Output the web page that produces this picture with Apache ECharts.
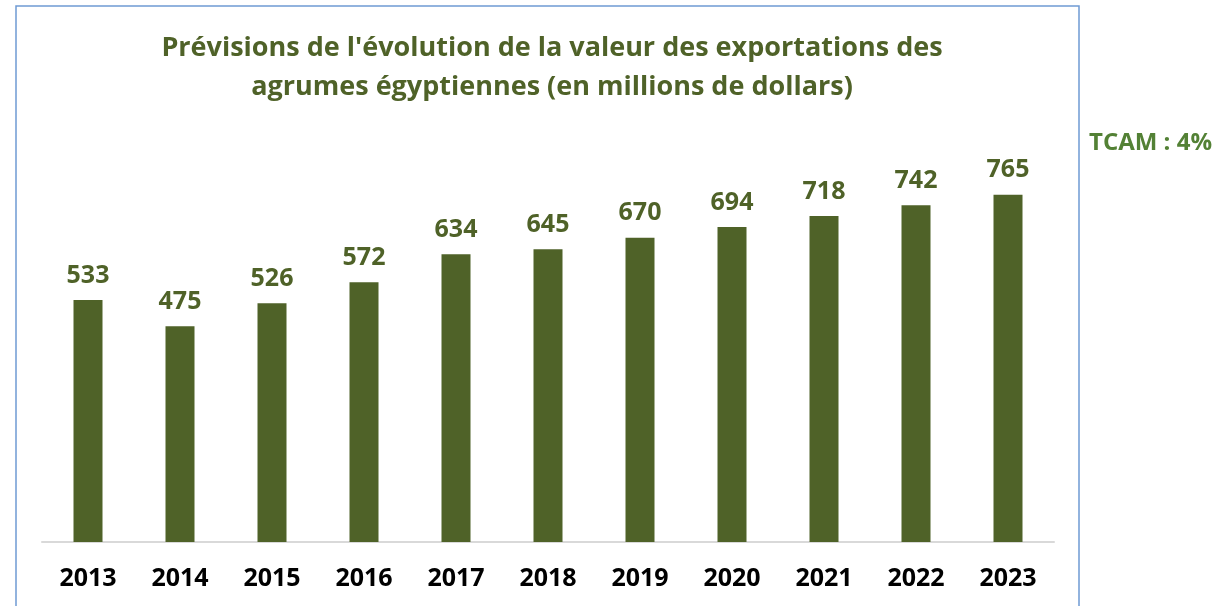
<!DOCTYPE html>
<html>
<head>
<meta charset="utf-8">
<script src="https://cdn.jsdelivr.net/npm/echarts@6/dist/echarts.min.js"></script>
<style>
  html, body { margin: 0; padding: 0; background: #fff; }
  #chart { width: 1223px; height: 606px; }
</style>
</head>
<body>
<div id="chart"></div>
<script>
const years = ["2013", "2014", "2015", "2016", "2017", "2018", "2019", "2020", "2021", "2022", "2023"];
const exportValues = [533, 475, 526, 572, 634, 645, 670, 694, 718, 742, 765];
const titleLines = [
  "Prévisions de l'évolution de la valeur des exportations des",
  "agrumes égyptiennes (en millions de dollars)"
];
const tcamText = "TCAM : 4%";

const green = "#4F6228";
const font = "Open Sans";

var myChart = echarts.init(document.getElementById("chart"));

let option = {
  animation: false,
  textStyle: { fontFamily: font },
  title: {
    text: titleLines.join("\n"),
    left: 547,
    top: 24,
    textAlign: "center",
    textStyle: {
      color: green,
      fontSize: 27,
      fontWeight: "bold",
      fontFamily: font,
      lineHeight: 39,
    },
  },
  graphic: [
    {
      type: "rect",
      shape: { x: 16, y: 6, width: 1063, height: 620 },
      style: { fill: "none", stroke: "#6F9BD4", lineWidth: 1.5 },
      z: -1,
    },
    {
      type: "text",
      left: 1089,
      top: 131,
      style: {
        text: tcamText,
        fill: "#538135",
        font: "bold 24px 'Open Sans'",
      },
    },
  ],
  grid: {
    left: 42,
    right: 1223 - 1054,
    top: 88,
    bottom: 64,
  },
  xAxis: {
    type: "category",
    data: years,
    axisLine: { lineStyle: { color: "#D9D9D9", width: 2 } },
    axisTick: { show: false },
    axisLabel: {
      color: "#000",
      fontSize: 25,
      fontWeight: "bold",
      fontFamily: font,
      margin: 24,
    },
  },
  yAxis: {
    type: "value",
    min: 0,
    max: 1000,
    show: false,
    splitLine: { show: false },
  },
  series: [
    {
      type: "bar",
      data: exportValues,
      barWidth: 29,
      itemStyle: { color: green },
      label: {
        show: true,
        position: "top",
        distance: 12,
        color: green,
        fontSize: 25,
        fontWeight: "bold",
        fontFamily: font,
      },
    },
  ],
};
myChart.setOption(option);
</script>
</body>
</html>
